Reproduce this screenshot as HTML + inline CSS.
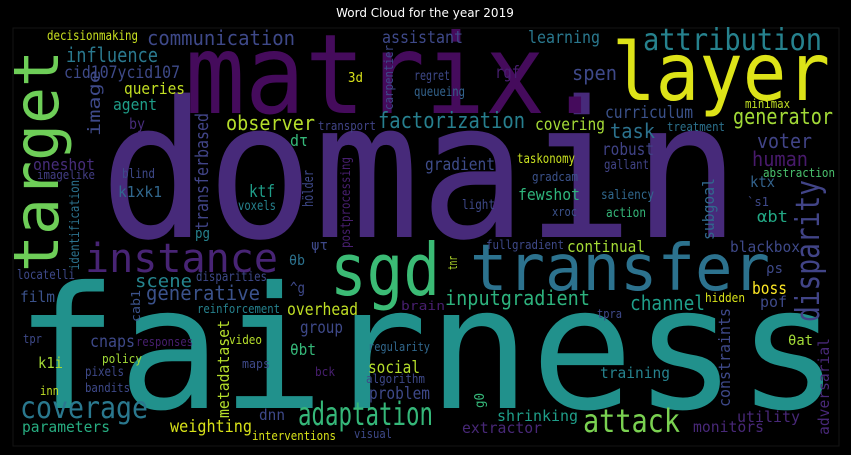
<!DOCTYPE html>
<html><head><meta charset="utf-8">
<style>
html,body{margin:0;padding:0;background:#000;}
svg{display:block;}
text{font-family:"DejaVu Sans Mono","Liberation Mono",monospace;}
</style></head>
<body>
<svg id="cloud" width="851" height="455" viewBox="0 0 851 455" xmlns="http://www.w3.org/2000/svg">
<rect x="0" y="0" width="851" height="455" fill="#000"/>
<rect x="13" y="28" width="826" height="418" fill="none" stroke="#141414" stroke-width="1"/>
<text x="425" y="17" fill="#fff" font-size="12" text-anchor="middle" style="font-family:'DejaVu Sans','Liberation Sans',sans-serif">Word Cloud for the year 2019</text>
<g id="words"></g>
</svg>
<script>
// word, x, y, font size, length, colour, rotated
const words = [
["domain",100,237,190,640,"#472a7a",0],
["fairness",15,408,170,825,"#21918c",0],
["matrix.",185,113,111,420,"#450b5c",0],
["layer",612,100,80,218,"#dde318",0],
["target",58,272,62,222,"#6ece58",1],
["transfer",470,290,64,300,"#2c728e",0],
["sgd",330,295,72,110,"#3bbb75",0],
["instance",85,272,40,193,"#482475",0],
["attribution",643,50,30,179,"#26828e",0],
["communication",147,45,20,148,"#3e4989",0],
["disparity",819,322,33,142,"#414487",1],
["adaptation",298,425,32,135,"#35b779",0],
["attack",583,432,32,97,"#7ad151",0],
["coverage",20,418,30,128,"#2a788e",0],
["inputgradient",445,305,20,145,"#2db27d",0],
["channel",630,310,20,75,"#1f9e89",0],
["generative",146,300,20,114,"#3b528b",0],
["scene",135,287,18,57,"#25858e",0],
["influence",66,62,20,92,"#2a788e",0],
["cid107ycid107",64,78,17,116,"#3e4a89",0],
["queries",124,94,16,61,"#c2df23",0],
["agent",113,110,16,44,"#1f9e89",0],
["image",100,136,17,66,"#3e4989",1],
["by",129,129,15,16,"#472c7a",0],
["observer",226,130,20,89,"#b5de2b",0],
["factorization",378,128,22,147,"#277f8e",0],
["covering",535,130,17,70,"#a5db36",0],
["curriculum",605,118,17,88,"#3b528b",0],
["generator",733,124,22,100,"#a2da37",0],
["task",610,138,20,45,"#2c728e",0],
["voter",757,148,20,55,"#414487",0],
["human",752,166,20,56,"#481a6c",0],
["robust",602,155,17,52,"#404387",0],
["gallant",604,169,13,45,"#414487",0],
["taskonomy",517,163,13,58,"#c8e020",0],
["gradient",425,170,17,70,"#3e4c8a",0],
["spen",572,80,20,45,"#3e4989",0],
["rgf",495,78,17,25,"#481f70",0],
["learning",528,43,17,72,"#2a788e",0],
["assistant",382,43,17,81,"#3e4989",0],
["regret",414,80,13,36,"#3e4989",0],
["queueing",414,96,13,51,"#33638d",0],
["3d",348,82,13,15,"#d8e219",0],
["carpentier",393,110,12,65,"#3e4989",1],
["transport",318,130,12,58,"#414487",0],
["dτ",290,146,16,18,"#35b779",0],
["minimax",745,108,12,45,"#c0df25",0],
["treatment",667,131,12,58,"#2c728e",0],
["abstraction",763,177,12,72,"#4ac16d",0],
["ktx",750,187,15,25,"#33638d",0],
["`s1",747,206,12,22,"#3e4989",0],
["αbt",757,222,16,31,"#22a884",0],
["saliency",601,199,13,53,"#31688e",0],
["action",606,217,13,40,"#35b779",0],
["xroc",552,216,12,25,"#3b528b",0],
["light",462,209,13,33,"#3e4989",0],
["fewshot",518,200,16,62,"#2fb47c",0],
["gradcam",532,181,12,46,"#3b528b",0],
["subgoal",714,240,16,62,"#31688e",1],
["ktf",249,197,17,26,"#1f9e89",0],
["voxels",238,210,13,38,"#26828e",0],
["hölder",313,207,14,37,"#3e4989",1],
["postprocessing",350,248,13,91,"#481f70",1],
["transferbased",208,230,18,117,"#414487",1],
["blind",122,178,13,33,"#3e4989",0],
["k1xk1",118,197,15,44,"#31688e",0],
["oneshot",33,170,16,62,"#472d7b",0],
["imagelike",37,179,12,58,"#433e85",0],
["identification",79,270,13,90,"#2c728e",1],
["pg",195,238,14,15,"#26828e",0],
["ψτ",311,250,14,17,"#3e4989",0],
["θb",289,265,14,16,"#2c728e",0],
["locatelli",17,279,13,58,"#3e4989",0],
["disparities",196,281,13,71,"#3e4989",0],
["^g",290,293,15,15,"#3e4989",0],
["film",20,302,15,35,"#3b528b",0],
["reinforcement",197,313,12,83,"#26828e",0],
["cab1",140,322,12,32,"#3b528b",1],
["overhead",287,315,17,71,"#c0df25",0],
["brain",401,310,12,44,"#481f70",0],
["group",300,333,17,43,"#3e4989",0],
["metadataset",229,418,16,98,"#b5de2b",1],
["cnaps",90,347,17,45,"#3e4989",0],
["responses",136,346,12,57,"#481f70",0],
["video",229,344,12,33,"#b5de2b",0],
["tpr",23,343,12,19,"#3e4989",0],
["θbt",290,355,16,26,"#35b779",0],
["policy",102,363,12,40,"#a2da37",0],
["k1i",38,368,15,25,"#a5db36",0],
["pixels",85,376,13,39,"#3e4989",0],
["maps",242,368,12,28,"#3e4989",0],
["bck",315,376,12,20,"#481f70",0],
["social",368,373,17,52,"#b5de2b",0],
["regularity",368,351,12,62,"#31688e",0],
["algorithm",366,383,12,59,"#3e4989",0],
["problem",369,399,17,61,"#3e4989",0],
["bandits",85,392,12,45,"#3e4989",0],
["inn",40,395,12,19,"#c0df25",0],
["dnn",259,420,15,26,"#3e4989",0],
["parameters",22,432,15,88,"#27ad81",0],
["weighting",170,432,17,82,"#d8e219",0],
["interventions",252,440,12,84,"#d8e219",0],
["visual",354,438,12,38,"#3e4989",0],
["shrinking",497,421,15,81,"#1f9e89",0],
["extractor",462,433,15,80,"#482878",0],
["monitors",693,432,15,71,"#482878",0],
["utility",737,422,15,63,"#482878",0],
["adversarial",829,435,15,97,"#482878",1],
["constraints",730,407,16,99,"#3e4989",1],
["training",600,378,15,70,"#26828e",0],
["θat",788,345,14,25,"#a2da37",0],
["g0",484,408,13,15,"#35b779",1],
["tpra",597,318,12,25,"#3e4989",0],
["hidden",705,302,12,40,"#d8e219",0],
["boss",752,294,17,35,"#fde725",0],
["pof",760,307,15,27,"#3e4989",0],
["ρs",766,273,14,17,"#3e4989",0],
["blackbox",730,252,15,70,"#3e4989",0],
["continual",567,252,16,78,"#a5db36",0],
["fullgradient",486,249,12,78,"#3e4989",0],
["tnr",457,270,12,14,"#b5de2b",1],
["decisionmaking",47,40,13,91,"#c8e020",0]
];
const g = document.getElementById('words');
const NS = "http://www.w3.org/2000/svg";
for (const w of words) {
  const t = document.createElementNS(NS, 'text');
  t.textContent = w[0];
  t.setAttribute('font-size', w[3]);
  t.setAttribute('fill', w[5]);
  t.setAttribute('textLength', w[4]);
  t.setAttribute('lengthAdjust', 'spacingAndGlyphs');
  if (w[6]) {
    t.setAttribute('x', 0);
    t.setAttribute('y', 0);
    t.setAttribute('transform', 'translate(' + w[1] + ',' + w[2] + ') rotate(-90)');
  } else {
    t.setAttribute('x', w[1]);
    t.setAttribute('y', w[2]);
  }
  
  
  g.appendChild(t);
}
</script>
</body></html>
